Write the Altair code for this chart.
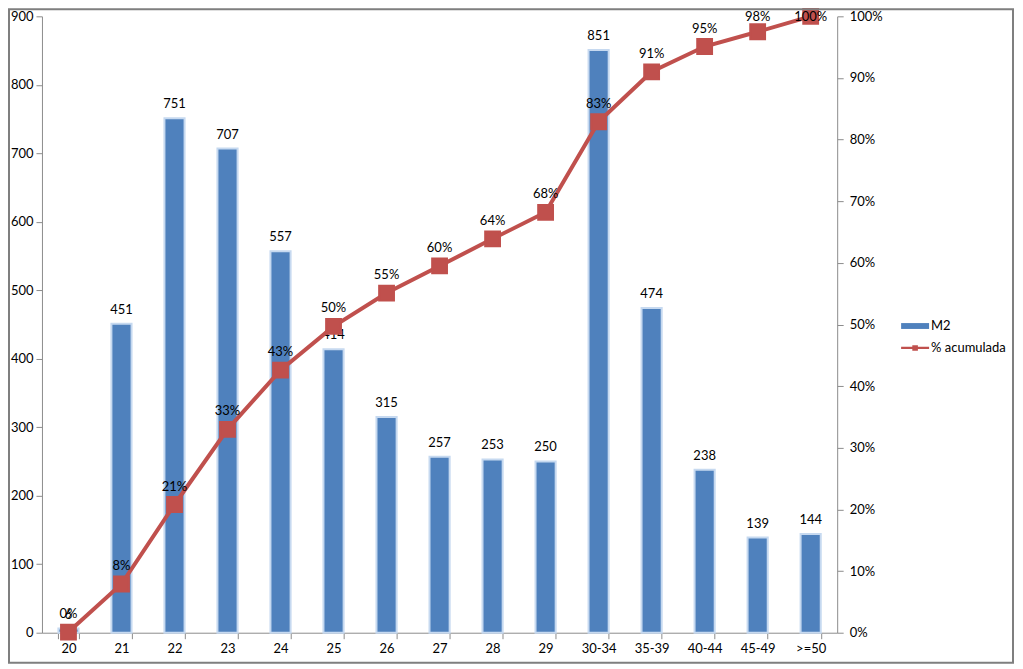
import altair as alt
import pandas as pd

categories = ["20", "21", "22", "23", "24", "25", "26", "27", "28", "29",
              "30-34", "35-39", "40-44", "45-49", ">=50"]
m2_values = [6, 451, 751, 707, 557, 414, 315, 257, 253, 250, 851, 474, 238, 139, 144]
pct_cumulative = [0.001, 0.079, 0.208, 0.330, 0.426, 0.497, 0.551, 0.595, 0.639,
                  0.682, 0.829, 0.910, 0.951, 0.975, 1.0]
pct_labels = ["0%", "8%", "21%", "33%", "43%", "50%", "55%", "60%", "64%",
              "68%", "83%", "91%", "95%", "98%", "100%"]

df = pd.DataFrame({
    "cat": categories,
    "m2": m2_values,
    "pct": pct_cumulative,
    "pct_label": pct_labels,
})

W, H = 796, 617
FONT = "Lato"
BLUE = "#4F81BD"
RED = "#C0504D"
AXIS_GREY = "#8C8C8C"

legend_common = dict(
    title=None, orient="none", labelFontSize=13, labelFont=FONT, labelColor="#000000",
    symbolSize=784, symbolStrokeWidth=0, labelOffset=2,
)

x_enc = alt.X(
    "cat:N",
    sort=categories,
    scale=alt.Scale(paddingInner=0.62, paddingOuter=0.31),
    axis=alt.Axis(title=None, labelAngle=0, labelFontSize=13, labelFont=FONT,
                  labelColor="#000000", domainColor=AXIS_GREY, tickColor=AXIS_GREY,
                  tickBand="extent", tickSize=6, labelPadding=4),
)

y_left = alt.Y(
    "m2:Q",
    scale=alt.Scale(domain=[0, 900], nice=False),
    axis=alt.Axis(title=None, values=list(range(0, 901, 100)), grid=False,
                  labelFontSize=13, labelFont=FONT, labelColor="#000000",
                  domainColor=AXIS_GREY, tickColor=AXIS_GREY, tickSize=6, labelPadding=3),
)

bars = alt.Chart(df).mark_bar(stroke="#C6D9F0", strokeWidth=2).encode(
    x=x_enc,
    y=y_left,
    color=alt.Color(
        "s:N", scale=alt.Scale(domain=["M2"], range=[BLUE]),
        legend=alt.Legend(symbolType="M-1,-0.21H1V0.21H-1Z", symbolFillColor=BLUE,
                          legendX=860, legendY=296, **legend_common),
    ),
).transform_calculate(s="'M2'")

bar_text = alt.Chart(df).mark_text(dy=-14, fontSize=13, font=FONT, color="#000000").encode(
    x=alt.X("cat:N", sort=categories),
    y=alt.Y("m2:Q"),
    text="m2:Q",
)

left = alt.layer(bars, bar_text)

y_right = alt.Y(
    "pct:Q",
    scale=alt.Scale(domain=[0, 1], nice=False),
    axis=alt.Axis(title=None, orient="right", format=".0%",
                  values=[i / 10 for i in range(11)], grid=False,
                  labelFontSize=13, labelFont=FONT, labelColor="#000000",
                  domainColor=AXIS_GREY, tickColor=AXIS_GREY, tickSize=6, labelPadding=6),
)

line = alt.Chart(df).mark_line(strokeWidth=4, color=RED, point=alt.OverlayMarkDef(
    shape="square", size=220, filled=True, color=RED, opacity=1)).encode(
    x=alt.X("cat:N", sort=categories),
    y=y_right,
    stroke=alt.Stroke(
        "t:N", scale=alt.Scale(domain=["% acumulada"], range=[RED]),
        legend=alt.Legend(
            symbolType="M-1,-0.08H-0.2V-0.2H0.2V-0.08H1V0.08H0.2V0.2H-0.2V0.08H-1Z",
            symbolFillColor=RED, symbolStrokeColor=RED,
            legendX=860, legendY=318, **legend_common),
    ),
).transform_calculate(t="'% acumulada'")


def pct_text(cond, dy):
    return alt.Chart(df).transform_filter(cond).mark_text(
        dy=dy, fontSize=13, font=FONT, color="#000000"
    ).encode(
        x=alt.X("cat:N", sort=categories),
        y=alt.Y("pct:Q"),
        text="pct_label:N",
    )


line_text = pct_text("datum.pct < 0.97", -18)
line_text_98 = pct_text("datum.pct >= 0.97 && datum.pct < 0.99", -15)
line_text_top = pct_text("datum.pct >= 0.99", 1)

right = alt.layer(line, line_text, line_text_98, line_text_top)

frame = alt.Chart(pd.DataFrame({"k": [0]})).mark_rect(
    fill=None, stroke="#7F7F7F", strokeWidth=2, clip=False
).encode(
    x=alt.value(-33), x2=alt.value(W + 176),
    y=alt.value(-7), y2=alt.value(H + 30),
)

chart = alt.layer(left, right, frame).resolve_scale(
    y="independent"
).properties(
    width=W,
    height=H,
    padding={"left": 34, "top": 8, "right": 178, "bottom": 32},
    autosize=alt.AutoSizeParams(type="none"),
).configure_view(stroke=None).configure_axis(labelFont=FONT)

chart.save("out.html", embed_options={"renderer": "svg", "actions": False})
